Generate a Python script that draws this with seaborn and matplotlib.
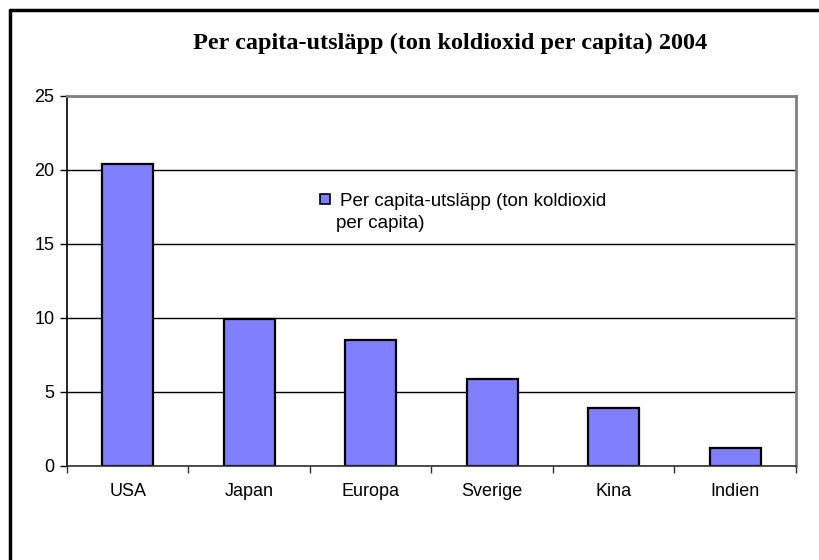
import numpy as np
import matplotlib
matplotlib.use("Agg")
import matplotlib.pyplot as plt
from matplotlib.lines import Line2D
import pandas as pd
import seaborn as sns

# data
countries = ["USA", "Japan", "Europa", "Sverige", "Kina", "Indien"]
emissions = [20.4, 9.9, 8.5, 5.9, 3.9, 1.2]
series_line1 = "Per capita-utsläpp (ton koldioxid"
series_line2 = "per capita)"
title = "Per capita-utsläpp (ton koldioxid per capita) 2004"
yticks = [0, 5, 10, 15, 20, 25]

df = pd.DataFrame({"land": countries, "utslapp": emissions})

sns.set_style("white")
plt.rcParams["font.family"] = ["Liberation Sans", "DejaVu Sans"]
plt.rcParams["text.color"] = "black"
plt.rcParams["xtick.color"] = "black"
plt.rcParams["ytick.color"] = "black"

fig = plt.figure(figsize=(8.2, 5.6), dpi=100)
ax = fig.add_axes([0.0817, 0.1679, 0.889, 0.6607])

sns.barplot(data=df, x="land", y="utslapp", color="#8080FF", saturation=1,
            width=0.42, edgecolor="black", linewidth=1.6, label=series_line1, ax=ax)

ax.set_ylim(0, 25)
ax.set_xlim(-0.5, len(countries) - 0.5)
ax.set_yticks(yticks)
ax.set_xlabel("")
ax.set_ylabel("")
ax.yaxis.grid(True, color="black", linewidth=1)
ax.set_axisbelow(True)

# spines like the excel chart
ax.spines["left"].set_color("black")
ax.spines["left"].set_linewidth(1.2)
ax.spines["bottom"].set_color("#303030")
ax.spines["bottom"].set_linewidth(1.2)
ax.spines["top"].set_color("#808080")
ax.spines["top"].set_linewidth(2)
ax.spines["right"].set_color("#808080")
ax.spines["right"].set_linewidth(2)

ax.tick_params(axis="y", direction="out", length=5, width=1, color="black",
               labelsize=13, pad=4, left=True)
ax.tick_params(axis="x", which="major", length=0, labelsize=13, pad=12)
ax.set_xticks(np.arange(-0.5, len(countries)), minor=True)
ax.tick_params(axis="x", which="minor", direction="out", length=5, width=1,
               color="#303030", bottom=True)

# legend: handle next to the first line, second line wraps underneath
leg = ax.legend(loc="center left", bbox_to_anchor=(0.347, 0.716), frameon=False,
                fontsize=13.5, handlelength=0.53, handleheight=0.5,
                handletextpad=0.55, borderpad=0, borderaxespad=0)
for h in leg.legend_handles:
    h.set_linewidth(1.2)
ax.text(0.369, 0.643, series_line2, transform=ax.transAxes, fontsize=13.5,
        ha="left", va="baseline")

fig.text(0.549, 1 - 49.5 / 560, title, ha="center", va="baseline", fontsize=17.5,
         fontweight="bold", family=["Liberation Serif", "DejaVu Serif"])

# outer frame (only top and left are visible in the picture)
fig.add_artist(Line2D([10 / 820, 1], [1 - 10 / 560, 1 - 10 / 560],
                      transform=fig.transFigure, color="black", linewidth=2.5))
fig.add_artist(Line2D([10 / 820, 10 / 820], [0, 1 - 10 / 560],
                      transform=fig.transFigure, color="black", linewidth=2.5))

plt.savefig("out.png", dpi=100)
